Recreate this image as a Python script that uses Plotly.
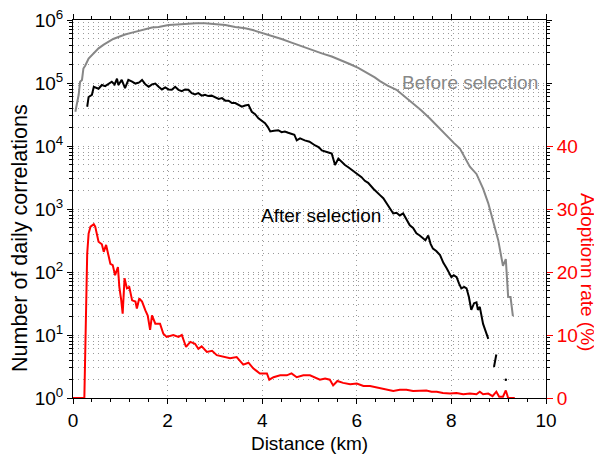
import plotly.graph_objects as go

# ---- data ----
dist_before = [0.05, 0.10, 0.12, 0.15, 0.19, 0.22, 0.26, 0.33, 0.40, 0.47, 0.54, 0.65, 0.75, 0.85, 0.96,
               1.10, 1.25, 1.40, 1.53, 1.67, 1.81, 2.02, 2.20, 2.37, 2.60, 2.79, 3.00, 3.22, 3.43, 3.64,
               3.80, 3.99, 4.20, 4.41, 4.62, 4.84, 5.05, 5.26, 5.47, 5.68, 5.85, 6.03, 6.20, 6.38, 6.49,
               6.65, 6.84, 7.00, 7.19, 7.36, 7.54, 7.72, 7.90, 8.05, 8.18, 8.30, 8.39, 8.53, 8.67, 8.78,
               8.88, 8.99, 9.09, 9.15, 9.20, 9.25, 9.30]
count_before = [3.5e4, 5.2e4, 6.5e4, 1.05e5, 1.12e5, 1.7e5, 1.9e5, 2.45e5, 2.75e5, 3.16e5, 3.55e5, 4.07e5,
                4.57e5, 5.0e5, 5.37e5, 5.89e5, 6.31e5, 6.76e5, 7.24e5, 7.59e5, 7.76e5, 8.32e5, 8.51e5,
                8.71e5, 8.91e5, 8.91e5, 8.71e5, 8.32e5, 7.76e5, 7.41e5, 6.92e5, 6.31e5, 5.62e5, 5.0e5,
                4.37e5, 3.8e5, 3.39e5, 2.95e5, 2.63e5, 2.29e5, 2.0e5, 1.74e5, 1.48e5, 1.23e5, 1.07e5,
                9.1e4, 7.8e4, 6.2e4, 4.8e4, 3.7e4, 2.75e4, 2.0e4, 1.41e4, 1.12e4, 9.1e3, 6.3e3, 4.7e3,
                3.6e3, 2.1e3, 1.23e3, 660, 320, 125, 160, 40, 40, 20]

dist_after = [0.30, 0.33, 0.40, 0.44, 0.54, 0.61, 0.68, 0.75, 0.82, 0.88, 0.93, 0.96, 1.03, 1.10, 1.17,
              1.25, 1.32, 1.40, 1.46, 1.53, 1.60, 1.67, 1.74, 1.81, 1.88, 1.95, 2.02, 2.09, 2.16, 2.23,
              2.30, 2.37, 2.44, 2.51, 2.58, 2.65, 2.72, 2.79, 2.86, 2.93, 3.00, 3.08, 3.15, 3.22, 3.29,
              3.36, 3.43, 3.50, 3.57, 3.64, 3.71, 3.78, 3.85, 3.92, 3.99, 4.06, 4.12, 4.17, 4.25, 4.34,
              4.41, 4.48, 4.55, 4.62, 4.68, 4.73, 4.80, 4.90, 5.00, 5.12, 5.20, 5.26, 5.33, 5.40, 5.47,
              5.54, 5.61, 5.68, 5.75, 5.82, 5.89, 5.96, 6.03, 6.10, 6.17, 6.24, 6.35, 6.42, 6.49, 6.56,
              6.63, 6.70, 6.77, 6.84, 6.91, 6.98, 7.05, 7.12, 7.19, 7.26, 7.33, 7.40, 7.45, 7.51, 7.56,
              7.61, 7.68, 7.76, 7.83, 7.90, 8.00, 8.05, 8.11, 8.16, 8.21, 8.27, 8.32, 8.37, 8.42, 8.48,
              8.53, 8.56, 8.60, 8.67, 8.72, 8.78, 8.84, 8.90, 8.95]
count_after = [4.2e4, 6.0e4, 6.5e4, 8.7e4, 8.1e4, 9.3e4, 8.9e4, 9.8e4, 1.05e5, 9.5e4, 1.17e5, 9.3e4, 1.12e5,
               8.3e4, 1.12e5, 1.05e5, 9.8e4, 1.02e5, 1.12e5, 9.5e4, 8.7e4, 9.5e4, 9.8e4, 8.7e4, 7.9e4,
               8.5e4, 7.9e4, 7.8e4, 8.7e4, 7.8e4, 7.4e4, 7.9e4, 7.8e4, 6.9e4, 6.6e4, 6.9e4, 6.3e4, 6.5e4,
               6.2e4, 6.3e4, 6.0e4, 5.6e4, 5.75e4, 5.25e4, 5.25e4, 4.8e4, 4.8e4, 4.5e4, 4.2e4, 4.4e4,
               4.5e4, 3.5e4, 3.2e4, 2.75e4, 2.5e4, 2.3e4, 2.0e4, 1.7e4, 1.74e4, 1.78e4, 1.66e4, 1.7e4,
               1.62e4, 1.58e4, 1.51e4, 1.23e4, 1.32e4, 1.23e4, 1.17e4, 1.02e4, 9.5e3, 8.5e3, 8.1e3, 7.9e3,
               7.6e3, 5.0e3, 6.3e3, 5.5e3, 5.0e3, 4.6e3, 4.2e3, 3.8e3, 3.5e3, 3.2e3, 2.8e3, 2.6e3, 2.1e3,
               1.9e3, 1.66e3, 1.48e3, 1.23e3, 1.05e3, 850, 870, 790, 850, 680, 550, 500, 410, 380, 340,
               320, 380, 280, 235, 215, 185, 140, 115, 83, 89, 83, 66, 55, 58, 55, 40, 25, 32, 33, 25,
               28, 15, 12, 8.7, None, 3.1, 4.9]
dist_after_isolated = [9.15]
count_after_isolated = [1.95]

dist_rate = [0.00, 0.24, 0.30, 0.33, 0.37, 0.44, 0.47, 0.54, 0.61, 0.65, 0.70, 0.79, 0.84, 0.89, 0.95,
             0.98, 1.02, 1.05, 1.09, 1.14, 1.19, 1.25, 1.32, 1.35, 1.40, 1.46, 1.53, 1.58, 1.63, 1.67,
             1.74, 1.84, 1.91, 1.98, 2.12, 2.23, 2.30, 2.39, 2.48, 2.58, 2.65, 2.72, 2.83, 2.94, 3.04,
             3.18, 3.32, 3.46, 3.60, 3.71, 3.81, 3.88, 3.95, 4.10, 4.15, 4.24, 4.38, 4.52, 4.62, 4.73,
             4.87, 5.01, 5.12, 5.22, 5.33, 5.43, 5.50, 5.59, 5.71, 5.86, 6.00, 6.14, 6.28, 6.42, 6.56,
             6.70, 6.77, 6.91, 7.05, 7.19, 7.33, 7.47, 7.58, 7.69, 7.82, 7.97, 8.11, 8.25, 8.39, 8.53,
             8.60, 8.67, 8.78, 8.87, 8.95, 9.01, 9.09, 9.15, 9.20, 9.34]
rate = [0.0, 0.0, 22.9, 26.1, 27.2, 27.6, 27.2, 24.8, 24.4, 23.2, 24.3, 21.3, 21.1, 19.5, 20.8,
        17.6, 15.5, 13.4, 19.0, 17.4, 17.6, 15.5, 15.3, 14.2, 15.8, 15.3, 13.9, 13.1, 10.8, 13.1,
        11.8, 11.8, 10.2, 9.7, 10.0, 9.7, 10.0, 8.1, 8.9, 8.6, 7.8, 8.2, 7.3, 7.5, 6.8,
        6.6, 6.3, 6.5, 5.3, 5.6, 4.7, 4.3, 3.9, 3.9, 2.9, 3.3, 3.6, 3.6, 3.9, 3.3,
        3.6, 3.6, 3.2, 2.9, 3.1, 2.9, 2.0, 2.7, 2.4, 2.2, 2.3, 1.9, 1.9, 1.7, 1.5,
        1.2, 1.1, 1.3, 1.3, 1.1, 1.1, 1.2, 1.0, 1.0, 0.8, 0.7, 0.8, 0.6, 0.7, 0.6,
        1.0, 0.6, 0.7, 0.3, 1.0, 0.2, 0.2, 1.2, 0.0, 0.0]

decades = [1, 10, 100, 1000, 10000, 100000, 1000000]
decade_labels = ["10<sup>0</sup>", "10<sup>1</sup>", "10<sup>2</sup>", "10<sup>3</sup>",
                 "10<sup>4</sup>", "10<sup>5</sup>", "10<sup>6</sup>"]
rate_ticks = [0, 10, 20, 30, 40]
x_ticks = [0, 2, 4, 6, 8, 10]

FONT = "Liberation Sans, Arial, Helvetica, sans-serif"
RED = "#ff0000"
GRID = "#9a9a9a"
DOT = "1px,4px"

# the page body has an 8px margin, so the figure is offset by 8px
PAGE_OFF = 8
W, H = 602 - PAGE_OFF, 457 - PAGE_OFF
ML, MT = 73 - PAGE_OFF, 20 - PAGE_OFF
MR, MB = 56, 59
PW = W - ML - MR
PH = H - MT - MB

fig = go.Figure()
fig.add_trace(go.Scatter(x=dist_before, y=count_before, mode="lines",
                         line=dict(color="#878787", width=2), yaxis="y", showlegend=False))
fig.add_trace(go.Scatter(x=dist_after, y=count_after, mode="lines",
                         line=dict(color="black", width=2), yaxis="y", showlegend=False))
fig.add_trace(go.Scatter(x=dist_after_isolated, y=count_after_isolated, mode="markers",
                         marker=dict(color="black", size=2.5), yaxis="y", showlegend=False))
fig.add_trace(go.Scatter(x=dist_rate, y=rate, mode="lines",
                         line=dict(color=RED, width=2), yaxis="y2", showlegend=False))

fig.add_annotation(text="Before selection", x=9.87, y=5.015, xref="x", yref="y",
                   xanchor="right", yanchor="middle", showarrow=False,
                   font=dict(family=FONT, size=19, color="#888888"))
fig.add_annotation(text="After selection", x=3.93, y=2.90, xref="x", yref="y",
                   xanchor="left", yanchor="middle", showarrow=False,
                   font=dict(family=FONT, size=19, color="black"))
fig.add_annotation(text="Adoptionn rate (%)", x=1 + (588 - 546) / PW, y=20, xref="paper", yref="y2",
                   xanchor="center", yanchor="middle", showarrow=False, textangle=90,
                   font=dict(family=FONT, size=19, color=RED))
fig.add_annotation(text="Number of daily correlations", x=(20 - 73) / PW, y=(398 - 238) / PH,
                   xref="paper", yref="paper",
                   xanchor="center", yanchor="middle", showarrow=False, textangle=-90,
                   font=dict(family=FONT, size=21.5, color="black"))

fig.update_layout(
    width=W, height=H,
    margin=dict(l=ML, r=MR, t=MT, b=MB, autoexpand=False),
    paper_bgcolor="white", plot_bgcolor="white",
    font=dict(family=FONT, size=19, color="black"),
    xaxis=dict(range=[0, 10], tickvals=x_ticks, ticks="outside", ticklen=5, tickwidth=1,
               tickcolor="black", showline=True, linecolor="black", linewidth=1, mirror="ticks",
               showgrid=True, gridcolor=GRID, gridwidth=1, griddash=DOT, zeroline=False,
               minor=dict(dtick=0.4, ticks="outside", ticklen=3, tickcolor="black", showgrid=False),
               title=dict(text="Distance (km)", font=dict(size=19), standoff=6),
               tickfont=dict(size=19), automargin=False, ticklabeloverflow="allow"),
    yaxis=dict(type="log", range=[0, 6], tickvals=decades, ticktext=decade_labels,
               ticks="outside", ticklen=5, tickwidth=1, tickcolor="black",
               showline=True, linecolor="black", linewidth=1, mirror="ticks",
               showgrid=True, gridcolor=GRID, gridwidth=1, griddash=DOT, zeroline=False,
               minor=dict(dtick="D1", ticks="outside", ticklen=3, tickcolor="black",
                          showgrid=True, gridcolor=GRID, gridwidth=1, griddash=DOT),
               tickfont=dict(size=19), automargin=False, ticklabeloverflow="allow"),
    yaxis2=dict(overlaying="y", side="right", range=[0, 60], tickvals=rate_ticks,
                ticks="outside", ticklen=6, tickwidth=1, tickcolor=RED,
                tickfont=dict(size=19, color=RED), showgrid=False, zeroline=False,
                showline=False, automargin=False, ticklabeloverflow="allow"),
)

fig.write_html("out.html")
